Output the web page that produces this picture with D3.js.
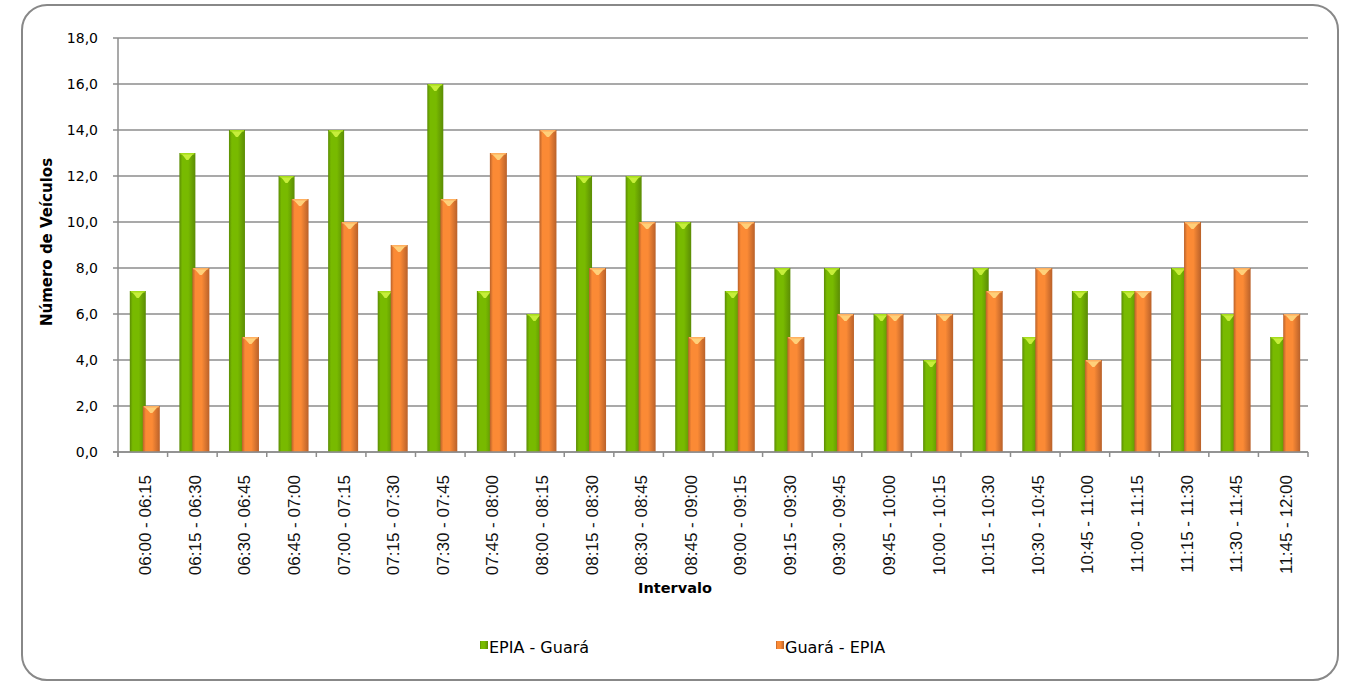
<html>
<head>
<script src="https://d3js.org/d3.v7.min.js"></script>
<style>
  body { margin: 0; background: #fff; }
  text { font-family: "DejaVu Sans", sans-serif; fill: #000; }
  .cat { font-family: "Liberation Sans", Arial, sans-serif; fill: #111; }
</style>
</head>
<body>
<svg id="chart" width="1348" height="688"></svg>
<script>
const categories = ["06:00 - 06:15","06:15 - 06:30","06:30 - 06:45","06:45 - 07:00","07:00 - 07:15","07:15 - 07:30",
  "07:30 - 07:45","07:45 - 08:00","08:00 - 08:15","08:15 - 08:30","08:30 - 08:45","08:45 - 09:00",
  "09:00 - 09:15","09:15 - 09:30","09:30 - 09:45","09:45 - 10:00","10:00 - 10:15","10:15 - 10:30",
  "10:30 - 10:45","10:45 - 11:00","11:00 - 11:15","11:15 - 11:30","11:30 - 11:45","11:45 - 12:00"];
const epiaGuara = [7,13,14,12,14,7,16,7,6,12,12,10,7,8,8,6,4,8,5,7,7,8,6,5];
const guaraEpia = [2,8,5,11,10,9,11,13,14,8,10,5,10,5,6,6,6,7,8,4,7,10,8,6];
const seriesNames = ["EPIA - Guará", "Guará - EPIA"];
const yTicks = [0,2,4,6,8,10,12,14,16,18];

const svg = d3.select("#chart");
const plotLeft = 118, plotRight = 1308, plotTop = 38, plotBottom = 452;

svg.append("rect")
  .attr("x", 22).attr("y", 5).attr("width", 1316).attr("height", 675)
  .attr("rx", 25).attr("fill", "#fff").attr("stroke", "#888").attr("stroke-width", 2);

const x = d3.scaleBand().domain(categories).range([plotLeft, plotRight]);
const y = d3.scaleLinear().domain([0, 18]).range([plotBottom, plotTop]);

// gradients
const defs = svg.append("defs");
function grad(id, edge, mid) {
  const g = defs.append("linearGradient").attr("id", id).attr("x1", 0).attr("x2", 1).attr("y1", 0).attr("y2", 0);
  g.append("stop").attr("offset", "0%").attr("stop-color", edge);
  g.append("stop").attr("offset", "18%").attr("stop-color", mid);
  g.append("stop").attr("offset", "55%").attr("stop-color", mid);
  g.append("stop").attr("offset", "100%").attr("stop-color", edge);
}
grad("gGreen", "#5b8c05", "#78ba00");
grad("gOrange", "#b9612a", "#fb8a35");

// gridlines
svg.append("g").selectAll("line").data(yTicks).join("line")
  .attr("x1", plotLeft - 5).attr("x2", plotRight)
  .attr("y1", d => y(d)).attr("y2", d => y(d))
  .attr("stroke", "#8c8c8c").attr("stroke-width", 1.5);

// y axis
svg.append("line").attr("x1", plotLeft).attr("x2", plotLeft).attr("y1", plotTop).attr("y2", plotBottom + 5)
  .attr("stroke", "#8c8c8c").attr("stroke-width", 1.5);
svg.append("g").selectAll("text").data(yTicks).join("text")
  .attr("x", plotLeft - 20).attr("y", d => y(d) + 5)
  .attr("text-anchor", "end").attr("font-size", 14)
  .text(d => d3.format(".1f")(d).replace(".", ","));

// x axis ticks
svg.append("g").selectAll("line").data(d3.range(categories.length + 1)).join("line")
  .attr("x1", i => plotLeft + i * x.bandwidth()).attr("x2", i => plotLeft + i * x.bandwidth())
  .attr("y1", plotBottom).attr("y2", plotBottom + 5)
  .attr("stroke", "#8c8c8c").attr("stroke-width", 1.5);

// bars
function drawBars(values, dx, w, fillId, cap, capEdge) {
  const g = svg.append("g");
  const bars = g.selectAll("g").data(values).join("g");
  bars.append("rect")
    .attr("x", (d, i) => x(categories[i]) + x.bandwidth() / 2 + dx)
    .attr("y", d => y(d)).attr("width", w).attr("height", d => plotBottom - y(d))
    .attr("fill", `url(#${fillId})`);
  bars.append("path")
    .attr("d", (d, i) => {
      const x0 = x(categories[i]) + x.bandwidth() / 2 + dx, y0 = y(d);
      return `M${x0 + 1},${y0}L${x0 + w - 1},${y0}L${x0 + w - 4},${y0 + 3}L${x0 + w / 2 + 1},${y0 + 7}L${x0 + w / 2 - 1},${y0 + 7}L${x0 + 4},${y0 + 3}Z`;
    })
    .attr("fill", cap);
  bars.append("rect")
    .attr("x", (d, i) => x(categories[i]) + x.bandwidth() / 2 + dx + 1)
    .attr("y", d => y(d)).attr("width", w - 2).attr("height", 1.5)
    .attr("fill", capEdge);
}
drawBars(epiaGuara, -13, 16, "gGreen", "#c6ee3a", "#a6dc1c");
drawBars(guaraEpia, 0, 17, "gOrange", "#ffd07a", "#ffb060");

// x baseline over bars
svg.append("line").attr("x1", plotLeft - 5).attr("x2", plotRight).attr("y1", plotBottom).attr("y2", plotBottom)
  .attr("stroke", "#8c8c8c").attr("stroke-width", 1.5);

// category labels
svg.append("g").selectAll("text").data(categories).join("text")
  .attr("class", "cat")
  .attr("transform", d => `translate(${x(d) + x.bandwidth() / 2 + 8.5},475) rotate(-90)`)
  .attr("text-anchor", "end").attr("font-size", 17)
  .text(d => d);

// axis titles
svg.append("text").attr("x", 675).attr("y", 593).attr("text-anchor", "middle")
  .attr("font-size", 14.5).attr("font-weight", "bold").text("Intervalo");
svg.append("text").attr("transform", "translate(52,242) rotate(-90)").attr("text-anchor", "middle")
  .attr("font-size", 15).attr("font-weight", "bold").text("Número de Veículos");

// legend
const legend = [
  {name: seriesNames[0], x: 480, fill: "url(#gGreen)"},
  {name: seriesNames[1], x: 776, fill: "url(#gOrange)"}
];
const lg = svg.append("g").selectAll("g").data(legend).join("g");
lg.append("rect").attr("x", d => d.x).attr("y", 641).attr("width", 8).attr("height", 8).attr("fill", d => d.fill);
lg.append("text").attr("x", d => d.x + 9).attr("y", 653).attr("font-size", 16).text(d => d.name);
</script>
</body>
</html>
